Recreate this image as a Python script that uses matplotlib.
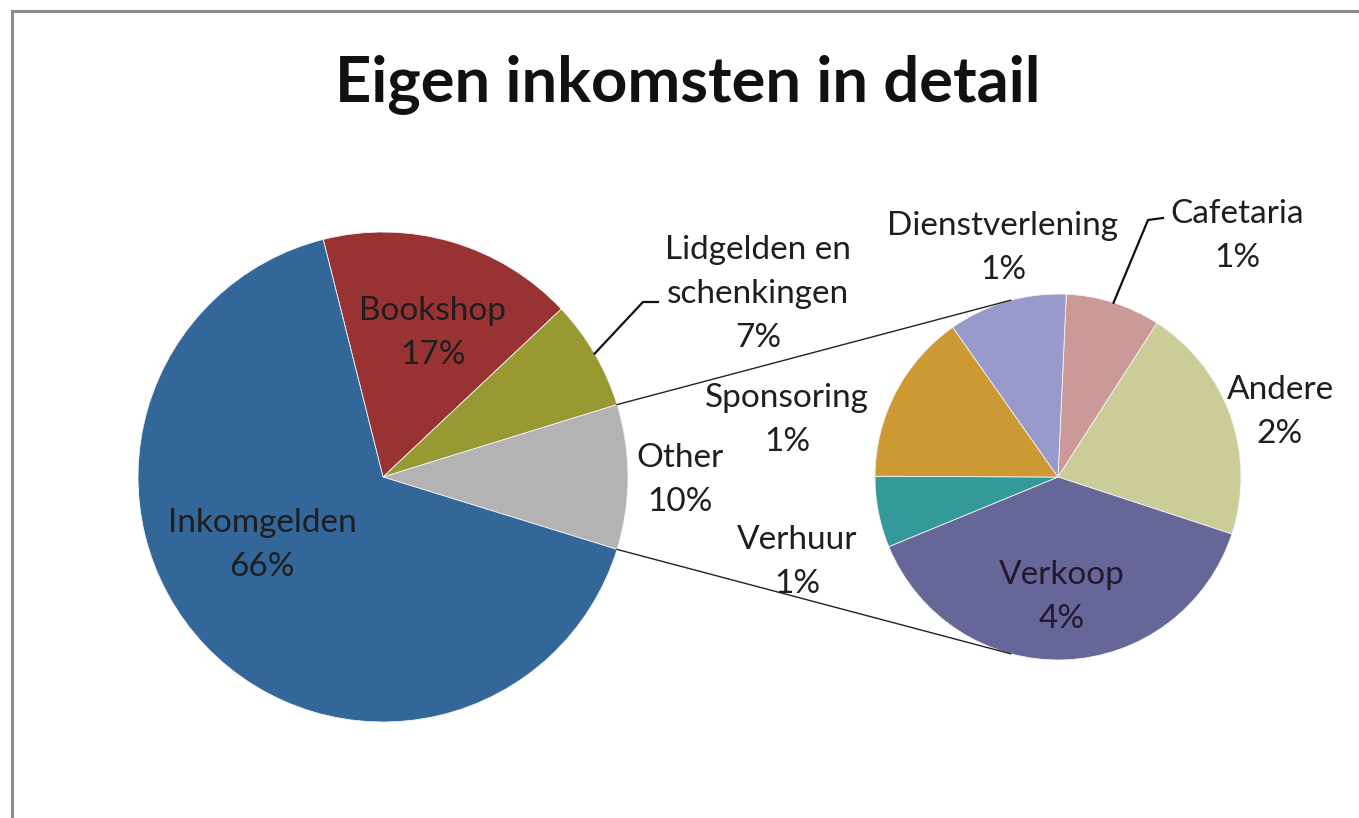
import numpy as np
import matplotlib
matplotlib.use("Agg")
import matplotlib.pyplot as plt

plt.rcParams['font.family'] = ['Lato', 'DejaVu Sans']

# Main breakdown (percent of own income)
main_labels = ["Bookshop", "Lidgelden en\nschenkingen", "Other", "Inkomgelden"]
main_values = [16.9, 7.25, None, 66.3]          # "Other" is the sum of the detail slices
main_colors = ["#993333", "#999933", "#B3B3B3", "#336699"]

# Detail of "Other"
sub_labels = ["Cafetaria", "Andere", "Verkoop", "Verhuur", "Sponsoring", "Dienstverlening"]
sub_values = [0.8, 2.0, 3.7, 0.6, 1.45, 1.0]
sub_colors = ["#CC9999", "#CCCC99", "#666699", "#339999", "#CC9933", "#9999CC"]

title = "Eigen inkomsten in detail"

other_value = sum(sub_values)
main_values = [v if v is not None else other_value for v in main_values]
total = sum(main_values)

W, H = 1359, 818
fig = plt.figure(figsize=(W / 100, H / 100), dpi=100)
ax = fig.add_axes([0, 0, 1, 1])

# Pie geometry (canvas units, y up)
cL, rL = (383, 341), 245
cR, rR = (1058, 341), 183

# Left pie: "Other" centred on the horizontal axis, slices run clockwise
other_idx = main_labels.index("Other")
before = sum(main_values[:other_idx])
start_L = (before + main_values[other_idx] / 2) / total * 360
ax.pie(main_values, colors=main_colors, startangle=start_L, counterclock=False,
       center=cL, radius=rL, wedgeprops=dict(edgecolor="#f4f4f4", linewidth=0.6))

start_R = 87.4
ax.pie(sub_values, colors=sub_colors, startangle=start_R, counterclock=False,
       center=cR, radius=rR, wedgeprops=dict(edgecolor="#f4f4f4", linewidth=0.6))

# Connector lines between "Other" and the detail pie
half = main_values[other_idx] / total * 180
conn_R = 105
for s in (1, -1):
    p0 = (cL[0] + rL * np.cos(np.radians(s * half)), cL[1] + rL * np.sin(np.radians(s * half)))
    p1 = (cR[0] + rR * np.cos(np.radians(s * conn_R)), cR[1] + rR * np.sin(np.radians(s * conn_R)))
    ax.plot([p0[0], p1[0]], [p0[1], p1[1]], color="#222222", lw=1.0, zorder=3)


def mid_angle(values, idx, start):
    tot = sum(values)
    return start - (sum(values[:idx]) + values[idx] / 2) / tot * 360


def pct(v):
    return f"{v / total * 100:.0f}%"


fs = 24
txt_kw = dict(ha="center", va="center", fontsize=fs, color="#1e1e1e", linespacing=1.6, zorder=5)

# Left pie labels (canvas coords, y up)
main_pos = {
    "Bookshop": (433, 818 - 333),
    "Lidgelden en\nschenkingen": (758, 818 - 294),
    "Other": (680, 818 - 480),
    "Inkomgelden": (262, 818 - 545),
}
for i, lab in enumerate(main_labels):
    x, y = main_pos[lab]
    ax.text(x, y, f"{lab}\n{pct(main_values[i])}", **txt_kw)

# Leader for Lidgelden
a = np.radians(mid_angle(main_values, 1, start_L))
ax.plot([cL[0] + rL * np.cos(a), 643, 658],
        [cL[1] + rL * np.sin(a), 818 - 302, 818 - 302], color="#111111", lw=1.6, zorder=4)

sub_pos = {
    "Cafetaria": (1237, 818 - 236),
    "Andere": (1280, 818 - 412),
    "Verkoop": (1062, 818 - 597),
    "Verhuur": (797, 818 - 562),
    "Sponsoring": (787, 818 - 420),
    "Dienstverlening": (1003, 818 - 248),
}
for i, lab in enumerate(sub_labels):
    x, y = sub_pos[lab]
    kw = dict(txt_kw)
    if lab == "Verkoop":
        kw["color"] = "#24182e"
    ax.text(x, y, f"{lab}\n{pct(sub_values[i])}", **kw)

# Leader for Cafetaria
a = np.radians(mid_angle(sub_values, 0, start_R))
ax.plot([cR[0] + rR * np.cos(a), 1148, 1163],
        [cR[1] + rR * np.sin(a), 818 - 220, 818 - 218], color="#111111", lw=1.6, zorder=4)

ax.text(688, 818 - 84, title, ha="center", va="center", fontsize=45.5,
        fontweight="bold", color="#111111")

# Chart area border (top and left edges)
ax.plot([11.5, 11.5, W + 5], [-5, 818 - 11, 818 - 11], color="#8c8c8c", lw=2.2,
        solid_joinstyle="miter", zorder=6, clip_on=False)

ax.set_xlim(0, W)
ax.set_ylim(0, H)
ax.set_aspect("auto")
ax.axis("off")

fig.savefig("out.png", dpi=100, facecolor="white")
